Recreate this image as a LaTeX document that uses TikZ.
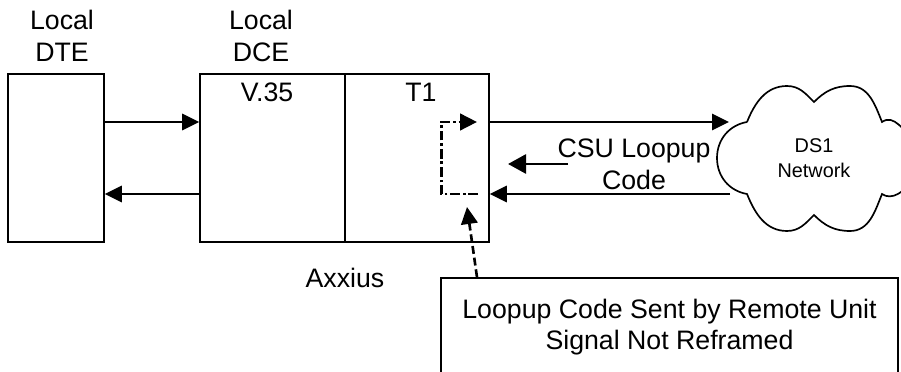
\documentclass[tikz,border=0pt]{standalone}
\usepackage{fontspec}
\setmainfont{Liberation Sans}
\usetikzlibrary{arrows.meta,calc}
\tikzset{
  arr/.style={-{Triangle[length=3.4mm,width=3.3mm]}, line width=0.95pt},
  loopline/.style={arr, dash pattern=on 5.5pt off 1.6pt on 1.6pt off 1.6pt, line width=1.7pt},
  noteline/.style={arr, dash pattern=on 4.5pt off 2.2pt, line width=1.5pt},
  codearr/.style={-{Triangle[length=3.6mm,width=3.8mm]}, line width=1.6pt},
  unit/.style={draw, line width=0.95pt, minimum height=3.36cm, inner sep=0pt, minimum width=#1},
  lbl/.style={font=\fontsize{15.2}{18}\selectfont, align=center, inner sep=0pt},
  small/.style={font=\fontsize{11.3}{14}\selectfont, align=center, inner sep=0pt}
}
\begin{document}
\begin{tikzpicture}[x=1cm,y=1cm]
  \clip (0,0) rectangle (18.02,7.42);
  % boxes
  \node[unit=1.92cm] (dte) at (1.12,4.26) {};
  \node[unit=2.9cm] (dce) at (5.45,4.26) {};
  \node[unit=2.88cm] (tone) at (8.34,4.26) {};
  \node[draw, line width=0.95pt, minimum width=9.14cm, minimum height=1.96cm, inner sep=0pt, lbl] (note) at (13.39,0.88) {Loopup Code Sent by Remote Unit\\Signal Not Reframed};
  % cloud
  \coordinate (rowtop) at (0,4.98);
  \coordinate (rowbot) at (0,3.54);
  \coordinate (cloudin) at (14.58,4.98);
  \coordinate (cloudout) at (14.6,3.54);
  \draw[line width=0.95pt] (14.94,4.98) to[out=68,in=180] (15.74,5.7) to[out=0,in=135] (16.28,5.38)
    to[out=45,in=180] (17,5.7) to[out=0,in=112] (17.64,4.98)
    to[out=35,in=140] (18.3,4.6) to[out=-40,in=-35] (17.64,3.54)
    to[out=-112,in=0] (17,2.8) to[out=180,in=-45] (16.28,3.12)
    to[out=-135,in=0] (15.74,2.8) to[out=180,in=-68] (14.94,3.54)
    to[out=170,in=-90] (14.34,4.26) to[out=90,in=190] (14.94,4.98);
  % labels
  \node[lbl] (dtelbl) at (1.24,6.7) {Local\\DTE};
  \node[lbl] (dcelbl) at (5.22,6.7) {Local\\DCE};
  \node[lbl] (vlbl) at (5.34,5.58) {V.35};
  \node[lbl] (tlbl) at (8.42,5.58) {T1};
  \node[lbl] (axlbl) at (6.9,1.86) {Axxius};
  \node[lbl] (csulbl) at (12.68,4.14) {CSU Loopup\\Code};
  \node[small] (netlbl) at (16.28,4.26) {DS1\\Network};
  % connectors
  \draw[arr] (dte.east |- rowtop) -- (dce.west |- rowtop);
  \draw[arr] (dce.west |- rowbot) -- (dte.east |- rowbot);
  \draw[arr] (tone.east |- rowtop) -- (cloudin);
  \draw[arr] (cloudout) -- (tone.east |- rowbot);
  \coordinate (codetail) at (11.36,4.14);
  \coordinate (codetip) at (10.16,4.14);
  \draw[codearr] (codetail) -- (codetip);
  % loop back
  \coordinate (loopin) at (9.56,3.54);
  \coordinate (loopa) at (8.82,3.54);
  \coordinate (loopb) at (8.82,4.98);
  \coordinate (loopout) at (9.54,4.98);
  \draw[loopline] (loopin) -- (loopa) -- (loopb) -- (loopout);
  \coordinate (notetip) at (9.34,3.28);
  \draw[noteline] (note.north -| 9.54,0) -- (notetip);
\end{tikzpicture}
\end{document}
